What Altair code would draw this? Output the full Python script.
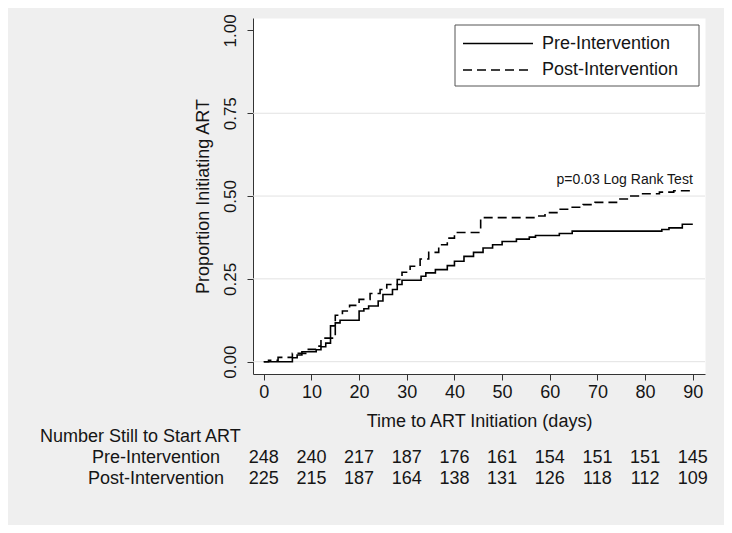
import altair as alt
import pandas as pd

groups = ["Pre-Intervention", "Post-Intervention"]

# Kaplan-Meier step curves (day where the value changes, cumulative proportion)
pre_days = [0, 6, 7, 8, 11, 12, 13, 14, 15, 16, 20, 21, 22, 24, 25, 27, 28, 29, 33, 34,
            36, 38.5, 40, 42, 44, 46, 48, 50, 53, 55.7, 57, 62, 64.7, 83.5, 85, 87.8, 90]
pre_prop = [0, .012, .02, .03, .036, .045, .056, .108, .117, .125, .153, .16, .168, .183, .203, .218, .233, .246, .258, .268,
            .278, .29, .303, .318, .33, .343, .353, .363, .37, .376, .381, .387, .394, .399, .404, .415, .415]

post_days = [0, 1, 3, 6, 9, 11, 12, 15, 16.5, 18, 20, 22.3, 24.4, 25.8, 28, 29, 30.7, 32.8, 34.6, 36.7,
             38.5, 40, 45.5, 57.5, 59, 62, 64, 67, 69.5, 74, 77, 79, 83, 86, 90]
post_prop = [0, .004, .013, .025, .037, .047, .071, .14, .153, .17, .188, .206, .218, .233, .248, .27, .288, .31, .33, .353,
             .373, .39, .435, .44, .45, .46, .466, .474, .481, .491, .5, .507, .512, .516, .516]

# Number at risk table
risk_days = [0, 10, 20, 30, 40, 50, 60, 70, 80, 90]
pre_risk = [248, 240, 217, 187, 176, 161, 154, 151, 151, 145]
post_risk = [225, 215, 187, 164, 138, 131, 126, 118, 112, 109]

y_ticks = [0, 0.25, 0.5, 0.75, 1.0]
grid_vals = [0, 0.25, 0.5, 0.75]
x_ticks = list(range(0, 91, 10))

annot_text = ["p=0.03 Log Rank Test"]
annot_day = [90]
annot_prop = [0.549]

FONT = "Liberation Sans"
INK = "#151515"
DASH = [9, 5]

curves = pd.DataFrame(
    {"day": pre_days + post_days,
     "prop": pre_prop + post_prop,
     "group": [groups[0]] * len(pre_days) + [groups[1]] * len(post_days)}
)
pre_tab = pd.DataFrame({"day": risk_days, "n": pre_risk})
post_tab = pd.DataFrame({"day": risk_days, "n": post_risk})
grid_df = pd.DataFrame({"prop": grid_vals})
annot_df = pd.DataFrame({"day": annot_day, "prop": annot_prop, "t": annot_text})

xscale = alt.Scale(domain=[-2.26, 92.56], nice=False, zero=False)
yscale = alt.Scale(domain=[-0.0372, 1.0375], nice=False, zero=False)

x_axis = alt.Axis(values=x_ticks, title="Time to ART Initiation (days)", grid=False,
                  labelFontSize=18, titleFontSize=18, titleFontWeight="normal",
                  labelFont=FONT, titleFont=FONT, labelColor=INK, titleColor=INK,
                  domainColor="#333333", tickColor="#333333", tickSize=6,
                  labelPadding=3, titlePadding=11, labelFlush=False)
y_axis = alt.Axis(values=y_ticks, format=".2f", title="Proportion Initiating ART", grid=False,
                  labelAngle=270, labelFontSize=17, titleFontSize=18, titleFontWeight="normal",
                  labelFont=FONT, titleFont=FONT, labelColor=INK, titleColor=INK,
                  domainColor="#333333", tickColor="#333333", tickSize=6,
                  labelPadding=8, titlePadding=9, labelFlush=False)

grid = alt.Chart(grid_df).mark_rule(color="#e2e2e2", strokeWidth=1).encode(
    y=alt.Y("prop:Q", scale=yscale, axis=y_axis)
)

lines = alt.Chart(curves).mark_line(interpolate="step-after", color="black", strokeWidth=1.6).encode(
    x=alt.X("day:Q", scale=xscale, axis=x_axis),
    y=alt.Y("prop:Q", scale=yscale, axis=y_axis),
    strokeDash=alt.StrokeDash(
        "group:N",
        scale=alt.Scale(domain=groups, range=[[1, 0], DASH]),
        legend=None,
    ),
    order=alt.Order("day:Q"),
)

# legend box (drawn by hand, Stata style)
one = pd.DataFrame({"k": [0]})
leg_box = alt.Chart(one).mark_rect(fill="white", stroke="#555555", strokeWidth=1).encode(
    x=alt.value(202), x2=alt.value(446), y=alt.value(7), y2=alt.value(68))
leg_solid = alt.Chart(one).mark_rule(color="black", strokeWidth=1.5).encode(
    x=alt.value(210), x2=alt.value(280), y=alt.value(25.5))
leg_dash = alt.Chart(one).mark_rule(color="black", strokeWidth=1.5, strokeDash=DASH).encode(
    x=alt.value(210), x2=alt.value(280), y=alt.value(52))
leg_t1 = alt.Chart(pd.DataFrame({"label": [groups[0]]})).mark_text(
    align="left", baseline="middle", fontSize=18, font=FONT, color=INK).encode(
    x=alt.value(289), y=alt.value(25.5), text="label:N")
leg_t2 = alt.Chart(pd.DataFrame({"label": [groups[1]]})).mark_text(
    align="left", baseline="middle", fontSize=18, font=FONT, color=INK).encode(
    x=alt.value(289), y=alt.value(52), text="label:N")

annot = alt.Chart(annot_df).mark_text(align="right", baseline="middle", fontSize=14, font=FONT, color=INK).encode(
    x=alt.X("day:Q", scale=xscale), y=alt.Y("prop:Q", scale=yscale), text="t:N"
)

pre_num = alt.Chart(pre_tab).mark_text(align="center", baseline="middle", fontSize=18, font=FONT, color=INK).encode(
    x=alt.X("day:Q", scale=xscale), y=alt.value(440), text="n:Q"
)
post_num = alt.Chart(post_tab).mark_text(align="center", baseline="middle", fontSize=18, font=FONT, color=INK).encode(
    x=alt.X("day:Q", scale=xscale), y=alt.value(461), text="n:Q"
)

pre_lab = alt.Chart(pd.DataFrame({"label": [groups[0]]})).mark_text(
    align="center", baseline="middle", fontSize=18, font=FONT, color=INK).encode(
    x=alt.value(-97), y=alt.value(440), text="label:N")
post_lab = alt.Chart(pd.DataFrame({"label": [groups[1]]})).mark_text(
    align="center", baseline="middle", fontSize=18, font=FONT, color=INK).encode(
    x=alt.value(-97), y=alt.value(461), text="label:N")
head_lab = alt.Chart(pd.DataFrame({"label": ["Number Still to Start ART"]})).mark_text(
    align="left", baseline="middle", fontSize=18, font=FONT, color=INK).encode(
    x=alt.value(-213), y=alt.value(419), text="label:N")

chart = alt.layer(grid, lines, annot, leg_box, leg_solid, leg_dash, leg_t1, leg_t2,
                  pre_num, post_num, pre_lab, post_lab, head_lab).properties(
    width=452, height=356,
    autosize=alt.AutoSizeParams(type="none"),
    padding={"left": 245, "top": 10, "right": 19, "bottom": 151},
    background="#efefef",
).configure_view(fill="white", stroke="transparent")

chart.save("out.html", embed_options={"renderer": "svg", "actions": False})
